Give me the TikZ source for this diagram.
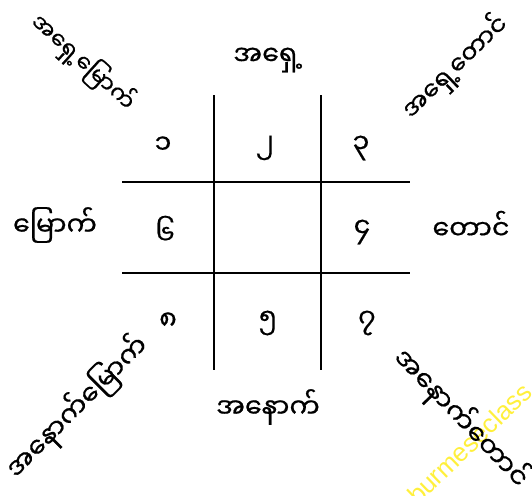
\documentclass[tikz,border=0pt]{standalone}
\usepackage{fontspec}
\setmainfont{Liberation Sans}
\newfontfamily\myfont[Script=Myanmar,FakeBold=0.6]{Noto Sans Myanmar UI}
\begin{document}
\begin{tikzpicture}[x=1pt,y=-1pt,
  gridline/.style={line width=2.4pt,black},
  lbl/.style={font=\myfont\fontsize{27}{30}\selectfont,inner sep=0pt,text=black},
  digit/.style={font=\myfont\fontsize{27}{30}\selectfont,inner sep=0pt,text=black},
  wmark/.style={font=\fontsize{26}{30}\selectfont,inner sep=0pt,text={rgb,255:red,255;green,240;blue,60},anchor=base west}]
\useasboundingbox (0,0) rectangle (532,495);
\clip (0,0) rectangle (532,495);
\fill[white] (0,0) rectangle (532,495);
% watermark
\node[wmark,rotate=44] (wm) at (418,506) {burmeseclass};
% grid
\coordinate (v1t) at (214,95);  \coordinate (v1b) at (214,370);
\coordinate (v2t) at (321,95);  \coordinate (v2b) at (321,370);
\coordinate (h1l) at (122,182); \coordinate (h1r) at (410,182);
\coordinate (h2l) at (122,273); \coordinate (h2r) at (410,273);
\draw[gridline] (v1t) -- (v1b);
\draw[gridline] (v2t) -- (v2b);
\draw[gridline] (h1l) -- (h1r);
\draw[gridline] (h2l) -- (h2r);
% digits
\node[digit] (d1) at (163,145) {၁};
\node[digit] (d2) at (265,148) {၂};
\node[digit] (d3) at (361,148) {၃};
\node[digit] (d6) at (165,230) {၆};
\node[digit] (d4) at (362,232) {၄};
\node[digit] (d8) at (168,321) {၈};
\node[digit] (d5) at (268,323) {၅};
\node[digit] (d7) at (367,323) {၇};
% directions
\node[lbl] (e)  at (268,60)  {အရှေ့};
\node[lbl] (n)  at (55,225)  {မြောက်};
\node[lbl] (s)  at (471,225) {တောင်};
\node[lbl] (w)  at (268,407) {အနောက်};
\node[lbl,rotate=-42,font=\myfont\fontsize{23}{26}\selectfont] (ne) at (83,62) {အရှေ့မြောက်};
\node[lbl,rotate=44,font=\myfont\fontsize{25}{28}\selectfont]  (se) at (455,67)  {အရှေ့တောင်};
\node[lbl,rotate=45]  (nw) at (77,407)  {အနောက်မြောက်};
\node[lbl,rotate=-46] (sw) at (461,418) {အနောက်တောင်};
\end{tikzpicture}
\end{document}
